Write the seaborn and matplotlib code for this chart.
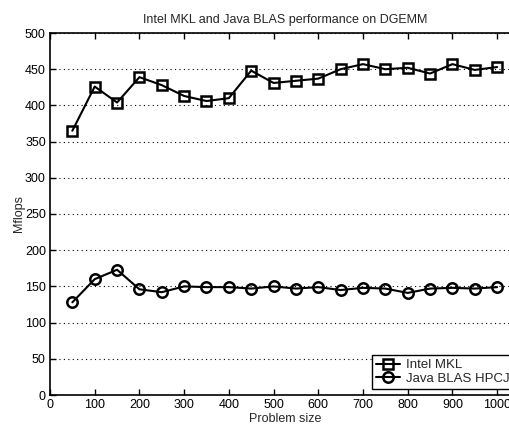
import matplotlib
matplotlib.use("Agg")
import matplotlib.pyplot as plt
import seaborn as sns
import pandas as pd

sizes = [50, 100, 150, 200, 250, 300, 350, 400, 450, 500,
         550, 600, 650, 700, 750, 800, 850, 900, 950, 1000]
mkl = [365, 426, 404, 439, 428, 413, 406, 410, 448, 431,
       434, 437, 450, 457, 450, 452, 444, 457, 449, 453]
java = [128, 160, 173, 146, 142, 150, 149, 149, 147, 150,
        147, 149, 145, 148, 147, 141, 147, 148, 147, 149]
series_names = ["Intel MKL", "Java BLAS HPCJ"]
xticks = list(range(0, 1001, 100))
yticks = list(range(0, 501, 50))

sns.set_theme(style="ticks")
plt.rcParams["font.family"] = ["Liberation Sans", "DejaVu Sans"]

fig = plt.figure(figsize=(5.09, 4.24), dpi=100)
ax = fig.add_axes([50 / 509, 1 - 395 / 424, 469.5 / 509, 362 / 424])

df = pd.DataFrame({
    "size": sizes + sizes,
    "mflops": mkl + java,
    "series": [series_names[0]] * len(sizes) + [series_names[1]] * len(sizes),
})

sns.lineplot(data=df, x="size", y="mflops", style="series", ax=ax,
             color="black", markers={series_names[0]: "s", series_names[1]: "o"},
             dashes=False, linewidth=1.5, markeredgewidth=1.8,
             markerfacecolor="none", markeredgecolor="black")


def style_line(ln):
    ln.set_markerfacecolor("none")
    ln.set_markeredgecolor("black")
    ln.set_markeredgewidth(1.8)
    ln.set_linewidth(1.5)
    ln.set_linestyle("-")
    if ln.get_marker() == "s":
        ln.set_markersize(6.5)
    elif ln.get_marker() == "o":
        ln.set_markersize(7.5)


for ln in ax.lines:
    style_line(ln)

ax.set_xlim(0, 1050)
ax.set_ylim(0, 500)
ax.set_xticks(xticks)
ax.set_yticks(yticks)
ax.tick_params(direction="in", length=4, width=1, labelsize=9, colors="black",
               top=True, right=True, pad=3)
ax.yaxis.grid(True, linestyle=(0, (1, 3)), color="black", linewidth=0.8)
ax.xaxis.grid(False)
for s in ax.spines.values():
    s.set_color("black")
    s.set_linewidth(1.2)

ax.set_title("Intel MKL and Java BLAS performance on DGEMM", fontsize=9, pad=7)
ax.set_xlabel("Problem size", fontsize=9, labelpad=1)
ax.set_ylabel("Mflops", fontsize=9, labelpad=0)

handles, labels = ax.get_legend_handles_labels()
for h in handles:
    style_line(h)
leg = ax.legend(handles, labels, loc="lower left",
                bbox_to_anchor=((372 - 50) / 469.5, 6 / 362),
                fontsize=9.5, frameon=True, fancybox=False, edgecolor="black",
                framealpha=1, handlelength=1.8, borderpad=0.3, labelspacing=0.1,
                handletextpad=0.45, borderaxespad=0)
leg.get_frame().set_linewidth(1.0)

fig.savefig("out.png", dpi=100)
